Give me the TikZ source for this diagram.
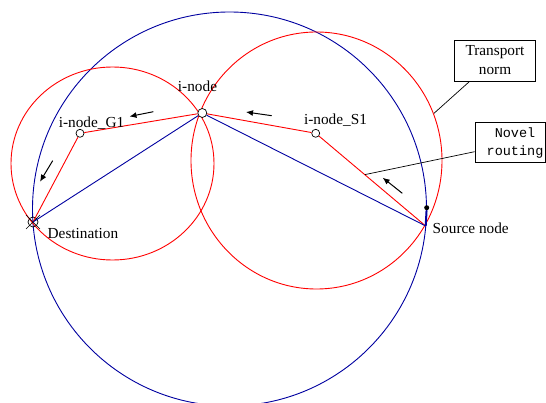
\documentclass[tikz,border=0pt]{standalone}
\usepackage{fontspec}
\setmainfont{Liberation Serif}
\setmonofont{Liberation Mono}
\usetikzlibrary{arrows.meta}
\definecolor{navy}{RGB}{0,0,160}
\begin{document}
\begin{tikzpicture}[x=1pt,y=-1pt,
  redl/.style={red, line width=0.9pt},
  bluel/.style={navy, line width=0.9pt},
  ptnode/.style={circle, draw=black, fill=white, line width=0.7pt, minimum size=8pt, inner sep=0pt},
  lbl/.style={font=\fontsize{15.3}{18}\selectfont, inner sep=0pt},
  flow/.style={-{Latex[length=7pt,width=6pt]}, line width=1pt, black},
  callout/.style={draw=black, line width=0.7pt},
  boxnode/.style={draw=black, line width=0.8pt, inner sep=0pt}]

\path[use as bounding box] (0,0) rectangle (546,403);
\clip (0,0) rectangle (546,403);

% big circles
\draw[bluel] (229.5,209) circle[radius=197];
\draw[redl] (112.5,163.5) ellipse[x radius=101.5, y radius=96.5];
\draw[redl] (316.5,160.5) ellipse[x radius=125.5, y radius=128.5];

% nodes
\node[ptnode, fill=none, minimum size=10pt] (dest) at (33,222) {};
\node[ptnode, minimum size=9pt] (inode) at (202.3,113) {};
\node[ptnode] (g1) at (80,133.3) {};
\node[ptnode] (s1) at (315.7,133.3) {};
\coordinate (src) at (425.7,226);

% destination cross
\draw[black, line width=0.6pt] ([shift={(-7,7)}]dest.center) -- ([shift={(7,-7)}]dest.center);
\draw[black, line width=0.6pt] ([shift={(-7,-7)}]dest.center) -- ([shift={(7,7)}]dest.center);

% routes
\draw[redl] (dest.center) -- (g1) -- (inode) -- (s1) -- (src);
\draw[bluel] (dest.center) -- (inode) -- (src);

% source marker
\node[circle, fill=black, minimum size=5pt, inner sep=0pt] (dot) at (426.7,207.7) {};
\draw[navy, line width=2pt] (dot) -- (src);

% arrows
\coordinate (a1s) at (153.3,111.7); \coordinate (a1e) at (129.5,116.5);
\coordinate (a2s) at (52.7,160.7);  \coordinate (a2e) at (40,181.7);
\coordinate (a3s) at (271.7,115.7); \coordinate (a3e) at (246,112);
\coordinate (a4s) at (402.3,193.3); \coordinate (a4e) at (382.7,177.7);
\draw[flow] (a1s) -- (a1e);
\draw[flow] (a2s) -- (a2e);
\draw[flow] (a3s) -- (a3e);
\draw[flow] (a4s) -- (a4e);

% labels
\node[lbl, anchor=base] (linode) at (197.5,92) {i-node};
\node[lbl, anchor=base] (lg1) at (91.5,128) {i-node\_G1};
\node[lbl, anchor=base] (ls1) at (335.5,125) {i-node\_S1};
\node[lbl, anchor=base west] (ldest) at (47.5,238.5) {Destination};
\node[lbl, anchor=base west] (lsrc) at (432.5,234) {Source node};

% callout boxes
\node[boxnode, minimum width=81.4pt, minimum height=41pt, align=center,
      font=\fontsize{15.3}{19}\selectfont] (tn) at (495,60.5) {Transport\\norm};
\node[boxnode, minimum width=70pt, minimum height=40pt] (nrbox) at (510,142.3) {};
\node[align=center, inner sep=0pt, font=\ttfamily\fontsize{13.5}{18.4}\selectfont] (nrtext) at (515,143) {Novel\\routing};

\coordinate (tnend) at (434,113.3);
\draw[callout] ([xshift=15.7pt]tn.south west) -- (tnend);
\coordinate (nrend) at (365,174.6);
\draw[callout] ([yshift=-9.4pt]nrbox.west) -- (nrend);
\end{tikzpicture}
\end{document}
